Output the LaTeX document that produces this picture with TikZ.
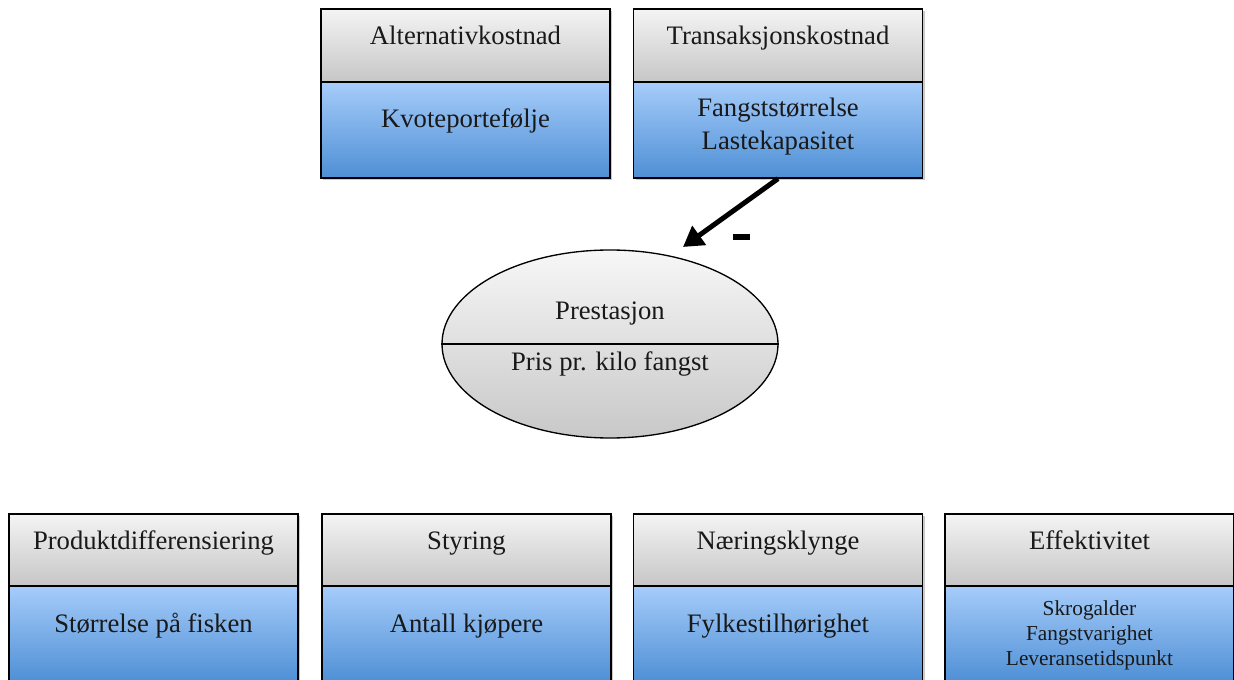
\documentclass[tikz,border=0pt]{standalone}
\usepackage{fontspec}
\setmainfont{Liberation Serif}
\usetikzlibrary{shadows,arrows.meta,shapes.geometric}
\definecolor{hdtop}{RGB}{244,244,244}
\definecolor{hdbot}{RGB}{198,198,198}
\definecolor{bdtop}{RGB}{166,204,250}
\definecolor{bdbot}{RGB}{78,143,213}
\definecolor{eltop}{RGB}{247,247,247}
\definecolor{elbot}{RGB}{200,200,200}
\begin{document}
\begin{tikzpicture}[x=0.75pt,y=-0.75pt,
  boxshadow/.style={drop shadow={shadow xshift=1.5pt,shadow yshift=-1.5pt,opacity=0.35,fill=black!60}},
  hdbox/.style={draw=black,line width=1pt,top color=hdtop,bottom color=hdbot,
    minimum width=216.75pt,minimum height=#1,inner sep=0pt,boxshadow},
  bdbox/.style={draw=black,line width=1pt,top color=bdtop,bottom color=bdbot,
    minimum width=216.75pt,minimum height=72pt,inner sep=0pt,boxshadow},
  lbl/.style={font=\fontsize{20}{24.75}\selectfont,inner sep=0pt,text=black!90},
  smlbl/.style={font=\fontsize{16}{18.75}\selectfont,inner sep=0pt,text=black!90,align=center},
]
\useasboundingbox (0,0) rectangle (1234,680);

% top boxes
\node[hdbox=54.75pt] (h1) at (465.5,45.5) {};
\node[bdbox] (b1) at (465.5,130) {};
\node[hdbox=54.75pt] (h2) at (778,45.5) {};
\node[bdbox] (b2) at (778,130) {};
\node[lbl,anchor=base] (th1) at (465.5,45) {Alternativkostnad};
\node[lbl,anchor=base] (tb1) at (465.5,128) {Kvoteportefølje};
\node[lbl,anchor=base] (th2) at (778,45) {Transaksjonskostnad};
\node[lbl,align=center] (tb2) at (778,127) {Fangststørrelse\\Lastekapasitet};

% ellipse
\node[ellipse,draw=black,line width=1pt,top color=eltop,bottom color=elbot,
  minimum width=252pt,minimum height=141pt,inner sep=0pt] (perf) at (610,344) {};
\draw[line width=1pt] (perf.west) -- (perf.east);
\node[lbl,anchor=base] (tp1) at (610,320) {Prestasjon};
\node[lbl,anchor=base] (tp2) at (610,371) {Pris pr. kilo fangst};

% arrow
\coordinate (tip) at (683,247);
\draw[line width=3.75pt,-{Triangle[length=15pt,width=17pt]}] (b2.south) -- (tip);
\node[fill=black,minimum width=12.75pt,minimum height=4.5pt,inner sep=0pt] (minus) at (741.5,237) {};

% bottom boxes
\node[hdbox=54pt] (h3) at (153.5,550) {};
\node[bdbox] (b3) at (153.5,634) {};
\node[hdbox=54pt] (h4) at (466.5,550) {};
\node[bdbox] (b4) at (466.5,634) {};
\node[hdbox=54pt] (h5) at (778,550) {};
\node[bdbox] (b5) at (778,634) {};
\node[hdbox=54pt] (h6) at (1089.5,550) {};
\node[bdbox] (b6) at (1089.5,634) {};

\node[lbl,anchor=base] (th3) at (153.5,549) {Produktdifferensiering};
\node[lbl,anchor=base] (tb3) at (153.5,632) {Størrelse på fisken};
\node[lbl,anchor=base] (th4) at (466.5,549) {Styring};
\node[lbl,anchor=base] (tb4) at (466.5,632) {Antall kjøpere};
\node[lbl,anchor=base] (th5) at (778,549) {Næringsklynge};
\node[lbl,anchor=base] (tb5) at (778,632) {Fylkestilhørighet};
\node[lbl,anchor=base] (th6) at (1089.5,549) {Effektivitet};
\node[smlbl] (tb6) at (1089.5,635.5) {Skrogalder\\Fangstvarighet\\Leveransetidspunkt};
\end{tikzpicture}
\end{document}
